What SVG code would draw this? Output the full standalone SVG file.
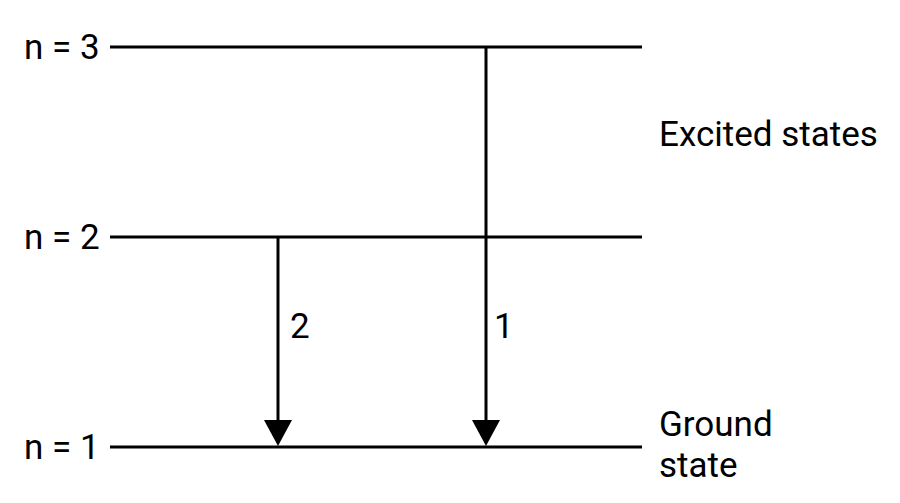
<svg xmlns="http://www.w3.org/2000/svg" width="900" height="503" viewBox="0 0 900 503">
<style>
.lvl{stroke:#000;stroke-width:3;fill:none}
.arr{stroke:#000;stroke-width:3;fill:none}
.head{fill:#000}
text{font-family:Roboto,"Liberation Sans",sans-serif;font-size:35px;fill:#000}
</style>
<rect width="900" height="503" fill="#fff"/>
<g id="level3"><line class="lvl" x1="110" y1="47" x2="642" y2="47"/><text x="24" y="59">n = 3</text></g>
<g id="level2"><line class="lvl" x1="110" y1="237" x2="642" y2="237"/><text x="24" y="249">n = 2</text></g>
<g id="level1"><line class="lvl" x1="110" y1="447" x2="642" y2="447"/><text x="24" y="459">n = 1</text></g>
<g id="excited"><text x="659" y="146">Excited states</text></g>
<g id="ground"><text x="659" y="436">Ground</text><text x="659" y="477">state</text></g>
<g id="connectors">
<line class="arr" x1="486" y1="47" x2="486" y2="422"/>
<polygon class="head" points="472,420 500,420 486,446"/>
<text x="494" y="338">1</text>
<line class="arr" x1="278" y1="237" x2="278" y2="422"/>
<polygon class="head" points="264,420 292,420 278,446"/>
<text x="290" y="338">2</text>
</g>
</svg>
